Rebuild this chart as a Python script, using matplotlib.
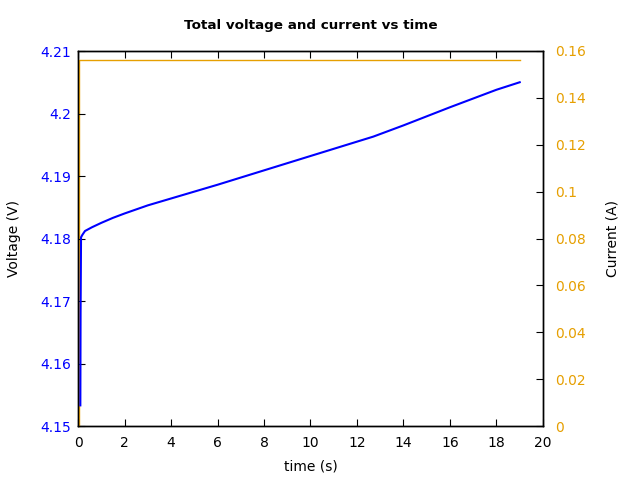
import matplotlib
matplotlib.use('Agg')
import matplotlib.pyplot as plt
from matplotlib.ticker import FuncFormatter

# data
time_v = [0.1, 0.11, 0.13, 0.19, 0.3, 0.6, 1.0, 1.5, 2.0, 3.0, 4.0, 6.0, 8.0, 10.0, 12.7, 14.0, 16.0, 18.0, 19.0]
voltage = [4.1533, 4.168, 4.1802, 4.1806, 4.1812, 4.1818, 4.1825, 4.1833, 4.1840, 4.1853, 4.1864,
           4.1886, 4.1909, 4.1932, 4.1963, 4.1981, 4.2010, 4.2038, 4.2050]
time_c = [0.05, 0.05, 19.0]
current = [0.0, 0.1562, 0.1562]

blue = '#0000ff'
orange = '#e69f00'

plt.rcParams['font.family'] = 'DejaVu Sans'
plt.rcParams['font.size'] = 10

fig = plt.figure(figsize=(6.4, 4.8), dpi=100)
ax = fig.add_axes([0.1219, 0.1125, 0.7265, 0.78125])
ax2 = ax.twinx()
# voltage drawn over current
ax.set_zorder(ax2.get_zorder() + 1)
ax.patch.set_visible(False)

ax.plot(time_v, voltage, color=blue, lw=1.5, clip_on=False, zorder=3)
ax2.plot(time_c, current, color=orange, lw=1.0, clip_on=False, zorder=3)

ax.set_xlim(0, 20)
ax.set_ylim(4.15, 4.21)
ax2.set_ylim(0, 0.16)

fmt = FuncFormatter(lambda v, p: '%g' % round(v, 6))
ax.set_xticks(range(0, 21, 2))
ax.set_yticks([4.15, 4.16, 4.17, 4.18, 4.19, 4.2, 4.21])
ax2.set_yticks([0, 0.02, 0.04, 0.06, 0.08, 0.1, 0.12, 0.14, 0.16])
ax.yaxis.set_major_formatter(fmt)
ax2.yaxis.set_major_formatter(fmt)

ax.tick_params(axis='x', direction='in', top=True, length=5, pad=7)
ax.tick_params(axis='y', direction='in', length=5, labelcolor=blue, color='black', pad=5)
ax2.tick_params(axis='y', direction='in', length=5, labelcolor=orange, color='black', pad=9)

for a in (ax, ax2):
    for s in a.spines.values():
        s.set_linewidth(1.0)

ax.set_xlabel('time (s)', labelpad=7)
ax.set_ylabel('Voltage (V)', labelpad=14)
ax2.set_ylabel('Current (A)', labelpad=14)
ax.set_title('Total voltage and current vs time', fontweight='bold', fontsize=9.7, pad=16)

fig.savefig('out.png', dpi=100)
